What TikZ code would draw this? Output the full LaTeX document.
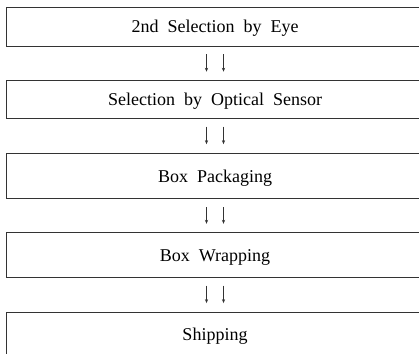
\documentclass[tikz,border=0pt]{standalone}
\usepackage{fontspec}
\setmainfont{Liberation Serif}
\usetikzlibrary{arrows.meta}

\newcommand{\stagefont}{\fontsize{18}{20}\selectfont\spaceskip=9pt\relax}

\tikzset{
  stagebox/.style={draw=black!80, line width=0.8pt, minimum width=417pt, inner sep=0pt,
    text height=12.5pt, text depth=0pt, font=\stagefont},
  stagearrow/.style={-{Stealth[length=4pt, width=3.2pt]}, line width=0.6pt, black!80,
    shorten <=8pt, shorten >=8.5pt}
}

\begin{document}
\begin{tikzpicture}[x=1pt, y=1pt]
\useasboundingbox (0,0) rectangle (419,-353);
% process stages, top to bottom
\node[stagebox, minimum height=38.7pt] (eye) at (215,-26.6) {2nd Selection by Eye};
\node[stagebox, minimum height=37.5pt] (optic) at (215,-99.4) {Selection by Optical Sensor};
\node[stagebox, minimum height=45.7pt] (pack) at (215,-175.9) {Box Packaging};
\node[stagebox, minimum height=44.6pt] (wrap) at (215,-255.0) {Box Wrapping};
\node[stagebox, minimum height=45pt] (ship) at (215,-334.5) {Shipping};
% double arrows between stages
\foreach \a/\b in {eye/optic, optic/pack, pack/wrap, wrap/ship} {
  \draw[stagearrow] ([xshift=-8.5pt]\a.south) -- ([xshift=-8.5pt]\b.north);
  \draw[stagearrow] ([xshift=8.5pt]\a.south) -- ([xshift=8.5pt]\b.north);
}
\end{tikzpicture}
\end{document}
